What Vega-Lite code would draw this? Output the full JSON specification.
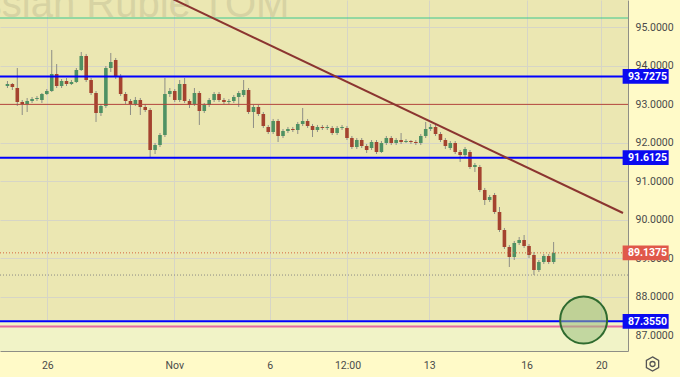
{
  "$schema": "https://vega.github.io/schema/vega-lite/v6.json",
  "width": 628,
  "height": 351,
  "autosize": {"type": "none"},
  "padding": {"left": 0, "top": 0, "right": 52, "bottom": 26},
  "background": "#FFFAC8",
  "config": {
    "view": {"fill": "#EBE7B2", "stroke": null},
    "axis": {"labelFont": "Roboto", "labelFontSize": 10.5, "labelColor": "#4a4a4a", "gridColor": "#D6D5C6", "gridWidth": 1, "tickSize": 0, "domainColor": "#8E8E86", "title": null, "labelOverlap": false, "labelFlush": false, "grid": true}
  },
  "datasets": {
    "candles": [
      {"i":0,"o":93.478,"h":93.608,"l":93.426,"c":93.530},
      {"i":1,"o":93.530,"h":93.556,"l":93.374,"c":93.452},
      {"i":2,"o":93.426,"h":93.946,"l":92.958,"c":93.062},
      {"i":3,"o":93.062,"h":93.114,"l":92.724,"c":93.010},
      {"i":4,"o":93.010,"h":93.166,"l":92.802,"c":93.088},
      {"i":5,"o":93.088,"h":93.192,"l":93.036,"c":93.140},
      {"i":6,"o":93.140,"h":93.218,"l":93.088,"c":93.166},
      {"i":7,"o":93.114,"h":93.296,"l":93.036,"c":93.270},
      {"i":8,"o":93.270,"h":93.400,"l":93.244,"c":93.348},
      {"i":9,"o":93.348,"h":94.415,"l":93.322,"c":93.790},
      {"i":10,"o":93.790,"h":94.050,"l":93.426,"c":93.478},
      {"i":11,"o":93.478,"h":93.660,"l":93.426,"c":93.608},
      {"i":12,"o":93.608,"h":93.686,"l":93.478,"c":93.530},
      {"i":13,"o":93.530,"h":93.634,"l":93.504,"c":93.582},
      {"i":14,"o":93.582,"h":93.946,"l":93.556,"c":93.894},
      {"i":15,"o":93.894,"h":94.363,"l":93.868,"c":94.259},
      {"i":16,"o":94.259,"h":94.311,"l":93.582,"c":93.634},
      {"i":17,"o":93.634,"h":93.686,"l":93.244,"c":93.296},
      {"i":18,"o":93.296,"h":93.348,"l":92.542,"c":92.776},
      {"i":19,"o":92.776,"h":93.010,"l":92.698,"c":92.958},
      {"i":20,"o":92.958,"h":93.998,"l":92.906,"c":93.946},
      {"i":21,"o":93.946,"h":94.337,"l":93.842,"c":94.102},
      {"i":22,"o":94.155,"h":94.207,"l":93.660,"c":93.738},
      {"i":23,"o":93.738,"h":93.790,"l":93.218,"c":93.270},
      {"i":24,"o":93.270,"h":93.322,"l":93.010,"c":93.088},
      {"i":25,"o":93.088,"h":93.140,"l":92.724,"c":93.010},
      {"i":26,"o":93.010,"h":93.192,"l":92.958,"c":93.114},
      {"i":27,"o":93.114,"h":93.166,"l":92.724,"c":92.932},
      {"i":28,"o":92.932,"h":93.010,"l":92.802,"c":92.854},
      {"i":29,"o":92.854,"h":92.906,"l":91.631,"c":91.813},
      {"i":30,"o":91.813,"h":91.995,"l":91.709,"c":91.943},
      {"i":31,"o":91.943,"h":92.255,"l":91.891,"c":92.203},
      {"i":32,"o":92.203,"h":93.686,"l":92.151,"c":93.270},
      {"i":33,"o":93.270,"h":93.426,"l":93.192,"c":93.348},
      {"i":34,"o":93.348,"h":93.400,"l":93.062,"c":93.114},
      {"i":35,"o":93.114,"h":93.634,"l":93.062,"c":93.530},
      {"i":36,"o":93.530,"h":93.686,"l":93.036,"c":93.088},
      {"i":37,"o":93.088,"h":93.140,"l":92.906,"c":92.984},
      {"i":38,"o":93.010,"h":93.426,"l":92.958,"c":93.296},
      {"i":39,"o":93.296,"h":93.348,"l":92.464,"c":92.828},
      {"i":40,"o":92.828,"h":93.036,"l":92.776,"c":92.984},
      {"i":41,"o":92.984,"h":93.166,"l":92.932,"c":93.114},
      {"i":42,"o":93.114,"h":93.322,"l":93.062,"c":93.270},
      {"i":43,"o":93.270,"h":93.322,"l":93.062,"c":93.114},
      {"i":44,"o":93.114,"h":93.166,"l":93.010,"c":93.062},
      {"i":45,"o":93.062,"h":93.140,"l":93.010,"c":93.088},
      {"i":46,"o":93.088,"h":93.244,"l":93.036,"c":93.192},
      {"i":47,"o":93.192,"h":93.348,"l":92.932,"c":93.296},
      {"i":48,"o":93.244,"h":93.634,"l":93.192,"c":93.374},
      {"i":49,"o":93.374,"h":93.426,"l":92.750,"c":92.802},
      {"i":50,"o":92.802,"h":92.984,"l":92.386,"c":92.932},
      {"i":51,"o":92.932,"h":92.984,"l":92.698,"c":92.750},
      {"i":52,"o":92.750,"h":92.802,"l":92.386,"c":92.437},
      {"i":53,"o":92.412,"h":92.464,"l":92.229,"c":92.281},
      {"i":54,"o":92.281,"h":92.620,"l":92.229,"c":92.568},
      {"i":55,"o":92.568,"h":92.620,"l":92.021,"c":92.177},
      {"i":56,"o":92.177,"h":92.359,"l":92.125,"c":92.307},
      {"i":57,"o":92.307,"h":92.412,"l":92.255,"c":92.359},
      {"i":58,"o":92.359,"h":92.412,"l":92.281,"c":92.333},
      {"i":59,"o":92.333,"h":92.542,"l":92.229,"c":92.490},
      {"i":60,"o":92.490,"h":92.906,"l":92.437,"c":92.568},
      {"i":61,"o":92.568,"h":92.620,"l":92.386,"c":92.437},
      {"i":62,"o":92.437,"h":92.490,"l":92.151,"c":92.333},
      {"i":63,"o":92.333,"h":92.464,"l":92.281,"c":92.412},
      {"i":64,"o":92.412,"h":92.464,"l":92.333,"c":92.386},
      {"i":65,"o":92.386,"h":92.464,"l":92.333,"c":92.412},
      {"i":66,"o":92.386,"h":92.437,"l":92.203,"c":92.255},
      {"i":67,"o":92.255,"h":92.437,"l":92.203,"c":92.386},
      {"i":68,"o":92.386,"h":92.464,"l":92.333,"c":92.412},
      {"i":69,"o":92.386,"h":92.437,"l":92.073,"c":92.125},
      {"i":70,"o":92.125,"h":92.177,"l":91.839,"c":91.891},
      {"i":71,"o":91.891,"h":92.125,"l":91.839,"c":92.073},
      {"i":72,"o":92.073,"h":92.125,"l":91.865,"c":91.917},
      {"i":73,"o":91.917,"h":91.969,"l":91.735,"c":91.813},
      {"i":74,"o":91.865,"h":92.073,"l":91.813,"c":92.021},
      {"i":75,"o":92.021,"h":92.073,"l":91.709,"c":91.761},
      {"i":76,"o":91.761,"h":92.047,"l":91.735,"c":91.995},
      {"i":77,"o":91.995,"h":92.177,"l":91.943,"c":92.125},
      {"i":78,"o":92.125,"h":92.177,"l":91.943,"c":91.995},
      {"i":79,"o":91.995,"h":92.125,"l":91.943,"c":92.073},
      {"i":80,"o":92.073,"h":92.255,"l":91.969,"c":92.021},
      {"i":81,"o":92.021,"h":92.099,"l":91.995,"c":92.047},
      {"i":82,"o":92.047,"h":92.073,"l":91.969,"c":92.021},
      {"i":83,"o":92.021,"h":92.073,"l":91.943,"c":91.995},
      {"i":84,"o":91.995,"h":92.229,"l":91.943,"c":92.177},
      {"i":85,"o":92.177,"h":92.542,"l":92.125,"c":92.359},
      {"i":86,"o":92.359,"h":92.490,"l":92.307,"c":92.412},
      {"i":87,"o":92.412,"h":92.464,"l":92.177,"c":92.229},
      {"i":88,"o":92.229,"h":92.281,"l":92.021,"c":92.073},
      {"i":89,"o":92.073,"h":92.125,"l":91.839,"c":91.917},
      {"i":90,"o":91.865,"h":92.047,"l":91.813,"c":91.995},
      {"i":91,"o":91.995,"h":92.047,"l":91.709,"c":91.761},
      {"i":92,"o":91.761,"h":91.813,"l":91.501,"c":91.683},
      {"i":93,"o":91.683,"h":91.891,"l":91.631,"c":91.839},
      {"i":94,"o":91.761,"h":91.813,"l":91.319,"c":91.371},
      {"i":95,"o":91.371,"h":91.475,"l":91.241,"c":91.423},
      {"i":96,"o":91.371,"h":91.423,"l":90.720,"c":90.773},
      {"i":97,"o":90.773,"h":90.825,"l":90.382,"c":90.512},
      {"i":98,"o":90.512,"h":90.642,"l":90.460,"c":90.590},
      {"i":99,"o":90.642,"h":90.695,"l":90.148,"c":90.200},
      {"i":100,"o":90.200,"h":90.330,"l":89.680,"c":89.732},
      {"i":101,"o":89.732,"h":89.784,"l":89.238,"c":89.290},
      {"i":102,"o":89.290,"h":89.342,"l":88.769,"c":89.030},
      {"i":103,"o":89.030,"h":89.446,"l":88.952,"c":89.394},
      {"i":104,"o":89.394,"h":89.550,"l":89.342,"c":89.472},
      {"i":105,"o":89.472,"h":89.602,"l":89.264,"c":89.316},
      {"i":106,"o":89.316,"h":89.368,"l":89.004,"c":89.082},
      {"i":107,"o":89.082,"h":89.160,"l":88.561,"c":88.691},
      {"i":108,"o":88.691,"h":88.952,"l":88.639,"c":88.900},
      {"i":109,"o":88.900,"h":89.108,"l":88.848,"c":89.056},
      {"i":110,"o":89.056,"h":89.108,"l":88.848,"c":88.900},
      {"i":111,"o":88.900,"h":89.420,"l":88.848,"c":89.1375}
    ],
    "levels": [
      {"name": "teal", "price": 95.247},
      {"name": "red", "price": 93.0},
      {"name": "blue", "price": 93.7275},
      {"name": "blue", "price": 91.6125},
      {"name": "blue", "price": 87.355},
      {"name": "pink", "price": 87.22},
      {"name": "last", "price": 89.1375},
      {"name": "low", "price": 88.56}
    ],
    "zones": [{"lo": 86.0, "hi": 87.355}],
    "trend": [{"i": 31.5, "p": 95.87}, {"i": 125.1, "p": 90.174}],
    "circle": [{"i": 117.1, "p": 87.39}],
    "title": [{"i": 57.3, "p": 95.281, "text": "Russian Ruble TOM"}],
    "boxes": [
      {"kind": "blue", "price": 93.7275},
      {"kind": "blue", "price": 91.6125},
      {"kind": "last", "price": 89.1375},
      {"kind": "blue", "price": 87.355}
    ],
    "icon": [{"part": "settings"}]
  },
  "layer": [
    {
      "data": {"name": "candles"},
      "mark": {"type": "rule", "color": "#8E8E86", "strokeWidth": 1, "opacity": 0},
      "encoding": {
        "x": {"field": "i", "type": "quantitative", "scale": {"domain": [-0.5, 125.1], "nice": false, "zero": false},
          "axis": {"orient": "bottom", "values": [8.1, 33.9, 53.3, 69.1, 85.7, 105.5, 120.7], "grid": true, "labelPadding": 9,
            "labelExpr": "datum.value < 20 ? '26' : datum.value < 40 ? 'Nov' : datum.value < 60 ? '6' : datum.value < 75 ? '12:00' : datum.value < 95 ? '13' : datum.value < 110 ? '16' : '20'"}},
        "y": {"field": "l", "type": "quantitative", "scale": {"domain": [86.584, 95.7154], "nice": false, "zero": false},
          "axis": {"orient": "right", "values": [87, 88, 89, 90, 91, 92, 93, 94, 95], "format": ".4f", "grid": true, "labelPadding": 7}},
        "y2": {"field": "h"}
      }
    },
    {
      "data": {"name": "zones"},
      "mark": {"type": "rect", "color": "#F1F3C7", "clip": true},
      "encoding": {
        "y": {"field": "lo", "type": "quantitative", "scale": {"domain": [86.584, 95.7154], "nice": false, "zero": false}},
        "y2": {"field": "hi"}
      }
    },
    {
      "data": {"name": "title"},
      "mark": {"type": "text", "align": "right", "baseline": "alphabetic", "font": "Liberation Sans", "fontSize": 40, "color": "#D7D3A3", "clip": true},
      "encoding": {
        "x": {"field": "i", "type": "quantitative", "scale": {"domain": [-0.5, 125.1], "nice": false, "zero": false}},
        "y": {"field": "p", "type": "quantitative", "scale": {"domain": [86.584, 95.7154], "nice": false, "zero": false}},
        "text": {"field": "text"}
      }
    },
    {
      "data": {"name": "candles"},
      "mark": {"type": "rule", "color": "#8E8E86", "strokeWidth": 1},
      "encoding": {
        "x": {"field": "i", "type": "quantitative", "scale": {"domain": [-0.5, 125.1], "nice": false, "zero": false}},
        "y": {"field": "l", "type": "quantitative", "scale": {"domain": [86.584, 95.7154], "nice": false, "zero": false}},
        "y2": {"field": "h"}
      }
    },
    {
      "data": {"name": "candles"},
      "mark": {"type": "bar", "size": 3.6},
      "encoding": {
        "x": {"field": "i", "type": "quantitative", "scale": {"domain": [-0.5, 125.1], "nice": false, "zero": false}},
        "y": {"field": "o", "type": "quantitative", "scale": {"domain": [86.584, 95.7154], "nice": false, "zero": false}},
        "y2": {"field": "c"},
        "color": {"condition": {"test": "datum.c >= datum.o", "value": "#4F9163"}, "value": "#A4432F"}
      }
    },
    {
      "data": {"name": "levels"},
      "transform": [{"filter": "datum.name === 'teal'"}],
      "mark": {"type": "rule", "color": "#3CC890", "strokeWidth": 1},
      "encoding": {"y": {"field": "price", "type": "quantitative", "scale": {"domain": [86.584, 95.7154], "nice": false, "zero": false}}}
    },
    {
      "data": {"name": "levels"},
      "transform": [{"filter": "datum.name === 'red'"}],
      "mark": {"type": "rule", "color": "#B5473A", "strokeWidth": 1},
      "encoding": {"y": {"field": "price", "type": "quantitative", "scale": {"domain": [86.584, 95.7154], "nice": false, "zero": false}}}
    },
    {
      "data": {"name": "levels"},
      "transform": [{"filter": "datum.name === 'low'"}],
      "mark": {"type": "rule", "color": "#8A8A84", "strokeWidth": 1, "strokeDash": [1, 2]},
      "encoding": {"y": {"field": "price", "type": "quantitative", "scale": {"domain": [86.584, 95.7154], "nice": false, "zero": false}}}
    },
    {
      "data": {"name": "levels"},
      "transform": [{"filter": "datum.name === 'last'"}],
      "mark": {"type": "rule", "color": "#D6653F", "strokeWidth": 1, "strokeDash": [1, 2]},
      "encoding": {"y": {"field": "price", "type": "quantitative", "scale": {"domain": [86.584, 95.7154], "nice": false, "zero": false}}}
    },
    {
      "data": {"name": "levels"},
      "transform": [{"filter": "datum.name === 'pink'"}],
      "mark": {"type": "rule", "color": "#E668A0", "strokeWidth": 2},
      "encoding": {"y": {"field": "price", "type": "quantitative", "scale": {"domain": [86.584, 95.7154], "nice": false, "zero": false}}}
    },
    {
      "data": {"name": "levels"},
      "transform": [{"filter": "datum.name === 'blue'"}],
      "mark": {"type": "rule", "color": "#0000FF", "strokeWidth": 2},
      "encoding": {"y": {"field": "price", "type": "quantitative", "scale": {"domain": [86.584, 95.7154], "nice": false, "zero": false}}}
    },
    {
      "data": {"name": "trend"},
      "mark": {"type": "line", "color": "#8B3530", "strokeWidth": 2, "clip": true},
      "encoding": {
        "x": {"field": "i", "type": "quantitative", "scale": {"domain": [-0.5, 125.1], "nice": false, "zero": false}},
        "y": {"field": "p", "type": "quantitative", "scale": {"domain": [86.584, 95.7154], "nice": false, "zero": false}}
      }
    },
    {
      "data": {"name": "circle"},
      "mark": {"type": "point", "shape": "circle", "filled": true, "fill": "#9BBF7F", "fillOpacity": 0.55, "stroke": "#2F6B2F", "strokeWidth": 2, "strokeOpacity": 1, "opacity": 1, "size": 2209},
      "encoding": {
        "x": {"field": "i", "type": "quantitative", "scale": {"domain": [-0.5, 125.1], "nice": false, "zero": false}},
        "y": {"field": "p", "type": "quantitative", "scale": {"domain": [86.584, 95.7154], "nice": false, "zero": false}}
      }
    },
    {
      "data": {"name": "boxes"},
      "mark": {"type": "point", "shape": "M-1,-0.32L1,-0.32L1,0.32L-1,0.32Z", "filled": true, "opacity": 1, "size": 2116, "strokeWidth": 0},
      "encoding": {
        "x": {"datum": 129.7, "type": "quantitative", "scale": {"domain": [-0.5, 125.1], "nice": false, "zero": false}},
        "y": {"field": "price", "type": "quantitative", "scale": {"domain": [86.584, 95.7154], "nice": false, "zero": false}},
        "color": {"field": "kind", "type": "nominal", "scale": {"domain": ["blue", "last"], "range": ["#0A0AF0", "#E0584A"]}, "legend": null}
      }
    },
    {
      "data": {"name": "boxes"},
      "mark": {"type": "text", "align": "left", "baseline": "middle", "font": "Roboto", "fontSize": 10.5, "fontWeight": "bold", "color": "#FFFFFF", "dy": 0.5},
      "encoding": {
        "x": {"datum": 126.1, "type": "quantitative", "scale": {"domain": [-0.5, 125.1], "nice": false, "zero": false}},
        "y": {"field": "price", "type": "quantitative", "scale": {"domain": [86.584, 95.7154], "nice": false, "zero": false}},
        "text": {"field": "price", "type": "quantitative", "format": ".4f"}
      }
    },
    {
      "data": {"name": "icon"},
      "mark": {"type": "point", "shape": "M0,-1L0.866,-0.5L0.866,0.5L0,1L-0.866,0.5L-0.866,-0.5Z", "filled": false, "stroke": "#555555", "strokeWidth": 1.3, "opacity": 1, "size": 200},
      "encoding": {
        "x": {"datum": 131.1, "type": "quantitative", "scale": {"domain": [-0.5, 125.1], "nice": false, "zero": false}},
        "y": {"datum": 86.246, "type": "quantitative", "scale": {"domain": [86.584, 95.7154], "nice": false, "zero": false}}
      }
    },
    {
      "data": {"name": "icon"},
      "mark": {"type": "point", "shape": "circle", "filled": false, "stroke": "#555555", "strokeWidth": 1.3, "opacity": 1, "size": 25},
      "encoding": {
        "x": {"datum": 131.1, "type": "quantitative", "scale": {"domain": [-0.5, 125.1], "nice": false, "zero": false}},
        "y": {"datum": 86.246, "type": "quantitative", "scale": {"domain": [86.584, 95.7154], "nice": false, "zero": false}}
      }
    }
  ]
}
